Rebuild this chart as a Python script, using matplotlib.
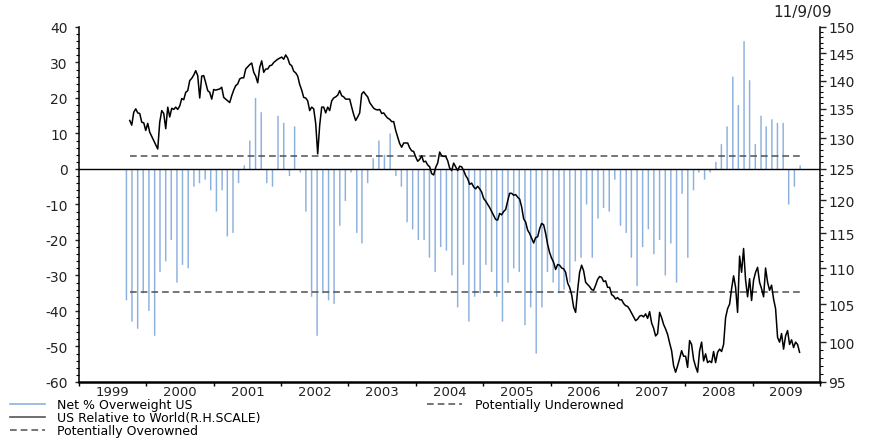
import pandas as pd
import numpy as np
import matplotlib
matplotlib.use("Agg")
import matplotlib.pyplot as plt
import matplotlib.dates as mdates
from matplotlib.ticker import MultipleLocator, FixedLocator, FormatStrFormatter, NullFormatter
from matplotlib.lines import Line2D

plt.rcParams['font.family'] = ['DejaVu Sans']
plt.rcParams['axes.unicode_minus'] = False

# Net % overweight US, monthly, Sep 1999 - Sep 2009
net_overweight = [
    -37, -43, -45, -35,                                                # 1999 (Sep-Dec)
    -40, -47, -29, -26, -20, -32, -27, -28, -5, -4, -3, -6,            # 2000
    -12, -6, -19, -18, -4, 1, 8, 20, 16, -4, -5, 15,                   # 2001
    13, -2, 12, -1, -12, -36, -47, -35, -37, -38, -16, -9,             # 2002
    -1, -18, -21, -4, 3, 8, 4, 10, -2, -5, -15, -17,                   # 2003
    -20, -20, -25, -29, -22, -23, -30, -39, -27, -43, -36, -35,        # 2004
    -27, -29, -36, -43, -32, -28, -29, -44, -39, -52, -39, -29,        # 2005
    -32, -35, -34, -32, -26, -25, -10, -25, -14, -11, -12, -3,         # 2006
    -16, -18, -25, -33, -22, -17, -24, -20, -30, -21, -32, -7,         # 2007
    -25, -6, -1, -3, -1, 2, 7, 12, 26, 18, 36, 25,                     # 2008
    7, 15, 12, 14, 13, 13, -10, -5, 1,                                 # 2009 (Jan-Sep)
]

# US relative to world (right hand scale), read roughly every 11 days
us_rel_1999_01 = [
    133.0, 132.2, 134.4, 135.0, 134.3, 134.2, 132.7, 132.6, 131.3, 132.5,
    131.0, 130.3, 129.6, 128.9, 128.2, 132.7, 134.7, 134.2, 131.6, 135.3,
    133.6, 135.1, 134.9, 135.3, 134.9, 135.5, 136.8, 136.6, 137.9, 138.2,
    140.0, 140.4, 141.0, 141.8, 140.9, 136.9, 140.8, 140.9, 139.6, 138.2,
    137.9, 136.7, 138.4, 138.3, 138.4, 138.5, 138.8, 137.0, 136.7, 136.4,
]
us_rel_2001_02 = [
    136.1, 137.3, 138.3, 139.1, 139.4, 140.3, 140.5, 140.5, 142.1, 142.5,
    142.9, 143.2, 141.5, 140.8, 139.6, 142.4, 143.6, 141.5, 142.1, 142.1,
    142.7, 142.8, 143.3, 143.6, 143.9, 144.1, 144.3, 143.9, 144.7, 144.1,
    143.0, 142.7, 141.7, 141.4, 140.8, 139.3, 138.3, 137.0, 136.9, 136.4,
    134.7, 135.3, 135.0, 132.5, 127.4, 132.2, 135.3, 135.3, 134.3, 135.3,
    134.7, 136.4, 136.9, 137.1, 137.4, 138.2,
]
us_rel_2002_04 = [
    137.3, 137.1, 136.7, 136.7, 136.7, 135.3, 134.0, 133.0, 133.6, 134.3,
    137.6, 138.0, 137.5, 137.1, 136.1, 135.6, 135.1, 134.9, 134.8, 134.9,
    134.2, 134.3, 133.8, 133.4, 133.2, 132.8, 132.8, 131.3, 130.2, 129.1,
    128.5, 129.2, 129.2, 129.2, 128.4, 127.9, 127.8, 126.9, 126.2, 126.5,
    127.1, 126.1, 126.2, 125.6, 125.3, 124.2, 124.0, 125.2, 125.9, 127.7,
    127.1, 127.0, 127.0, 126.3, 125.1, 124.7,
]
us_rel_2004_06 = [
    125.9, 125.3, 124.7, 125.4, 125.3, 124.7, 123.9, 123.4, 122.5, 122.7,
    122.1, 121.8, 122.2, 121.8, 121.3, 120.3, 119.9, 119.4, 118.9, 118.3,
    117.7, 117.1, 117.0, 118.0, 117.8, 118.3, 118.6, 119.9, 121.1, 121.1,
    120.8, 120.9, 120.5, 120.2, 119.0, 117.2, 116.7, 115.5, 115.0, 114.3,
    113.6, 114.4, 114.5, 115.7, 116.5, 116.3, 115.0, 113.4, 112.2, 111.4,
    110.8, 109.8, 110.5, 110.4, 110.0, 109.9,
]
us_rel_2006_07 = [
    109.4, 107.9, 107.3, 106.3, 104.6, 103.9, 106.9, 109.4, 110.4, 109.6,
    108.0, 107.7, 107.4, 107.0, 106.9, 107.6, 108.4, 108.8, 108.7, 108.1,
    108.2, 107.3, 107.3, 106.3, 106.1, 105.7, 105.9, 105.6, 105.6, 105.1,
    104.8, 104.7, 104.3, 103.8, 103.3, 102.8, 103.0, 103.4, 103.5, 103.3,
    103.7, 103.1, 104.0, 102.5, 101.8, 100.8, 101.1, 103.9, 103.2, 102.3,
    101.7, 101.0, 99.9, 98.9, 97.0, 96.2,
]
us_rel_2007_09 = [
    97.0, 97.9, 98.9, 98.2, 98.2, 96.8, 100.2, 99.7, 97.8, 96.9,
    96.2, 98.9, 100.0, 97.6, 98.5, 97.4, 97.6, 97.4, 98.8, 97.4,
    98.7, 99.1, 98.8, 99.7, 103.2, 104.4, 105.0, 107.1, 108.9, 107.3,
    103.9, 111.7, 109.4, 112.8, 108.3, 106.0, 108.5, 105.5, 108.3, 109.4,
    110.1, 108.0, 107.1, 106.0, 110.0, 108.0, 106.9, 107.6, 105.7, 104.4,
    100.6, 100.0, 101.1, 99.1, 100.8, 101.5, 99.7, 100.3, 99.3, 100.0,
    99.7, 98.7,
]
us_relative = (us_rel_1999_01 + us_rel_2001_02 + us_rel_2002_04
               + us_rel_2004_06 + us_rel_2006_07 + us_rel_2007_09)

underowned_level = 3.6
overowned_level = -34.6

# dates
bar_dates = pd.date_range('1999-09-01', periods=len(net_overweight), freq='MS') + pd.Timedelta(days=14)
line_dates = pd.date_range('1999-10-03', '2009-09-12', periods=len(us_relative))

bar_color = '#8db1de'
dash_color = '#505050'
dash_style = (0, (4.4, 2.6))

fig = plt.figure(figsize=(8.83, 4.39), dpi=100)
ax = fig.add_axes([0.0895, 0.1276, 0.8392, 0.8087])
ax2 = ax.twinx()

# bars + reference lines on the left axis
bars = ax.bar(bar_dates, net_overweight, width=8, color=bar_color, linewidth=0, zorder=2)
for b in bars:
    b.set_snap(False)
ax.axhline(0, color='black', lw=1.0, zorder=3)
ax.plot([line_dates[0], line_dates[-1]], [underowned_level, underowned_level],
        color=dash_color, lw=1.1, linestyle=dash_style, zorder=4)
ax.plot([line_dates[0], line_dates[-1]], [overowned_level, overowned_level],
        color=dash_color, lw=1.1, linestyle=dash_style, zorder=4)

# relative performance on the right (log) axis
ax2.plot(line_dates, us_relative, color='black', lw=1.1)

# left axis
ax.set_ylim(-60, 40)
ax.yaxis.set_major_locator(MultipleLocator(10))
ax.yaxis.set_minor_locator(MultipleLocator(2))
ax.tick_params(axis='y', which='major', length=3, width=1, labelsize=10, pad=5, colors='#222222')
ax.tick_params(axis='y', which='minor', length=2, width=0.8)

# x axis
ax.set_xlim(pd.Timestamp('1999-01-01'), pd.Timestamp('2010-01-01'))
ax.xaxis.set_major_locator(mdates.YearLocator())
ax.xaxis.set_major_formatter(NullFormatter())
ax.xaxis.set_minor_locator(mdates.MonthLocator(bymonth=7, bymonthday=2))
ax.xaxis.set_minor_formatter(mdates.DateFormatter('%Y'))
ax.tick_params(axis='x', which='major', length=3, width=1)
ax.tick_params(axis='x', which='minor', length=0, labelsize=9.5, pad=2.5, colors='#222222')

# right axis
ax2.set_yscale('log')
ax2.set_ylim(95, 150)
ax2.yaxis.set_major_locator(FixedLocator(list(range(95, 151, 5))))
ax2.yaxis.set_major_formatter(FormatStrFormatter('%d'))
ax2.yaxis.set_minor_locator(FixedLocator([v for v in range(95, 151) if v % 5]))
ax2.yaxis.set_minor_formatter(NullFormatter())
ax2.tick_params(axis='y', which='major', length=4, width=1, labelsize=10, pad=2, colors='#222222')
ax2.tick_params(axis='y', which='minor', length=2, width=0.8)

for a in (ax, ax2):
    a.spines['top'].set_visible(False)
    a.patch.set_visible(False)
ax2.spines['bottom'].set_visible(False)
ax2.spines['left'].set_visible(False)
ax.spines['right'].set_visible(False)
ax.spines['bottom'].set_linewidth(1.8)
ax.spines['left'].set_linewidth(1.1)
ax2.spines['right'].set_linewidth(1.1)

fig.text(0.942, 0.9715, '11/9/09', ha='right', va='center', fontsize=11, color='#222222')

# legends
h_bar = Line2D([], [], color=bar_color, lw=1.2)
h_line = Line2D([], [], color='#555555', lw=1.2)
h_dash = Line2D([], [], color=dash_color, lw=1.1, linestyle=dash_style)
leg_kw = dict(loc='upper left', frameon=False, fontsize=9, borderpad=0, borderaxespad=0,
              handlelength=2.8, handletextpad=1.0, labelspacing=0.0)
fig.legend([h_bar, h_line, h_dash],
           ['Net % Overweight US', 'US Relative to World(R.H.SCALE)', 'Potentially Overowned'],
           bbox_to_anchor=(0.0113, 0.0900), **leg_kw)
fig.legend([h_dash], ['Potentially Underowned'], bbox_to_anchor=(0.4836, 0.0900), **leg_kw)

fig.savefig('out.png', dpi=100)
